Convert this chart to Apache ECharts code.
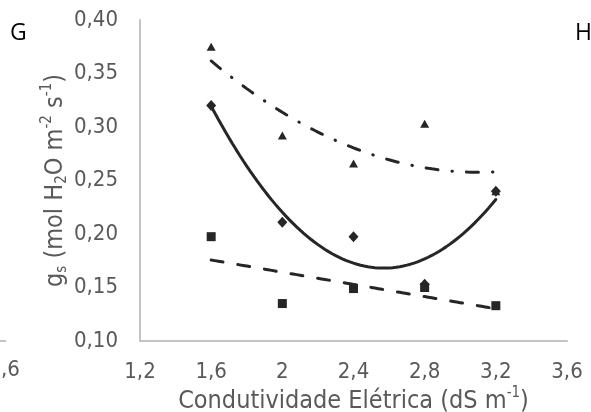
<!DOCTYPE html>
<html>
<head>
<meta charset="utf-8">
<script src="https://cdn.jsdelivr.net/npm/echarts@6/dist/echarts.min.js"></script>
<style>
html,body{margin:0;padding:0;background:#fff;}
#chart{width:591px;height:412px;}
</style>
</head>
<body>
<div id="chart"></div>
<script>
// Data
var condutividade = [1.6, 2.0, 2.4, 2.8, 3.2];
var serieTriangulo = [0.375, 0.292, 0.266, 0.303, 0.240];
var serieLosango   = [0.320, 0.211, 0.1975, 0.153, 0.240];
var serieQuadrado  = [0.1975, 0.135, 0.149, 0.150, 0.133];
var xTicks = [1.2, 1.6, 2.0, 2.4, 2.8, 3.2, 3.6];
var yTicks = [0.10, 0.15, 0.20, 0.25, 0.30, 0.35, 0.40];

// least squares polynomial fit (trendline)
function polyfit(xs, ys, deg) {
  var n = deg + 1, A = [], i, j, k;
  for (i = 0; i < n; i++) {
    A.push([]);
    for (j = 0; j < n; j++) {
      var s = 0;
      for (k = 0; k < xs.length; k++) s += Math.pow(xs[k], i + j);
      A[i].push(s);
    }
    var r = 0;
    for (k = 0; k < xs.length; k++) r += ys[k] * Math.pow(xs[k], i);
    A[i].push(r);
  }
  for (i = 0; i < n; i++) {
    var p = i;
    for (j = i + 1; j < n; j++) if (Math.abs(A[j][i]) > Math.abs(A[p][i])) p = j;
    var t = A[i]; A[i] = A[p]; A[p] = t;
    for (j = i + 1; j < n; j++) {
      var f = A[j][i] / A[i][i];
      for (k = i; k <= n; k++) A[j][k] -= f * A[i][k];
    }
  }
  var c = new Array(n);
  for (i = n - 1; i >= 0; i--) {
    var s2 = A[i][n];
    for (j = i + 1; j < n; j++) s2 -= A[i][j] * c[j];
    c[i] = s2 / A[i][i];
  }
  return c;
}
function trend(xs, ys, deg) {
  var c = polyfit(xs, ys, deg), out = [];
  var x0 = xs[0], x1 = xs[xs.length - 1], N = 80;
  for (var i = 0; i <= N; i++) {
    var x = x0 + (x1 - x0) * i / N, y = 0;
    for (var k = 0; k < c.length; k++) y += c[k] * Math.pow(x, k);
    out.push([x, y]);
  }
  return out;
}
function pts(ys) { return condutividade.map(function (x, i) { return [x, ys[i]]; }); }

var ink = '#262626';
var gray = '#595959';
var fontFam = '"DejaVu Sans Condensed","DejaVu Sans",sans-serif';

var chart = echarts.init(document.getElementById('chart'), null, {renderer: 'canvas'});
chart.setOption({
  animation: false,
  backgroundColor: '#fff',
  grid: {left: 140, right: 24, top: 20, bottom: 71, containLabel: false, outerBoundsMode: 'none'},
  xAxis: {
    type: 'value', min: 1.2, max: 3.6, interval: 0.4,
    axisLine: {show: true, lineStyle: {color: '#c4c4c4', width: 2}},
    axisTick: {show: false},
    splitLine: {show: false},
    axisLabel: {
      color: gray, fontFamily: fontFam, fontSize: 22, margin: 20,
      formatter: function (v) { return String(+(+v).toFixed(1)).replace('.', ','); }
    },
    name: 'Condutividade Elétrica (dS m{sup|-1})',
    nameLocation: 'middle', nameGap: 45, nameMoveOverlap: false,
    nameTextStyle: {
      color: gray, fontFamily: fontFam, fontSize: 25, padding: [0, 0, 0, 0],
      rich: {sup: {fontSize: 15, verticalAlign: 'top', color: gray, fontFamily: fontFam, lineHeight: 30}}
    }
  },
  yAxis: {
    type: 'value', min: 0.10, max: 0.40, interval: 0.05,
    axisLine: {show: true, lineStyle: {color: '#c4c4c4', width: 2}},
    axisTick: {show: false},
    splitLine: {show: false},
    axisLabel: {
      color: gray, fontFamily: fontFam, fontSize: 22, margin: 22,
      formatter: function (v) { return (+v).toFixed(2).replace('.', ','); }
    },
    name: 'g{sub|s} (mol H{sub|2}O m{sup|-2} s{sup|-1})',
    nameLocation: 'middle', nameGap: 70, nameRotate: 90, nameMoveOverlap: false,
    nameTextStyle: {
      color: gray, fontFamily: fontFam, fontSize: 25, lineHeight: 30,
      rich: {
        sub: {fontSize: 15, verticalAlign: 'bottom', color: gray, fontFamily: fontFam, lineHeight: 30},
        sup: {fontSize: 15, verticalAlign: 'top', color: gray, fontFamily: fontFam, lineHeight: 30}
      }
    }
  },
  series: [
    {type: 'scatter', data: pts(serieTriangulo), symbol: 'triangle', symbolSize: [9, 8], itemStyle: {color: ink, opacity: 1}, z: 3},
    {type: 'scatter', data: pts(serieLosango), symbol: 'diamond', symbolSize: [10, 11], itemStyle: {color: ink, opacity: 1}, z: 3},
    {type: 'scatter', data: pts(serieQuadrado), symbol: 'rect', symbolSize: 9, itemStyle: {color: ink, opacity: 1}, z: 3},
    {type: 'line', data: trend(condutividade, serieTriangulo, 2), showSymbol: false, symbol: 'none', z: 4,
     lineStyle: {color: ink, width: 3, type: [12, 14, 0.5, 14], cap: 'round'}},
    {type: 'line', data: trend(condutividade, serieLosango, 2), showSymbol: false, symbol: 'none', z: 4,
     lineStyle: {color: ink, width: 3, type: 'solid', cap: 'round'}},
    {type: 'line', data: trend(condutividade, serieQuadrado, 1), showSymbol: false, symbol: 'none', z: 4,
     lineStyle: {color: ink, width: 3, type: [12, 15], cap: 'round'}}
  ],
  graphic: [
    {type: 'text', left: 10, top: 22, style: {text: 'G', fill: '#000', font: '23px "Open Sans", sans-serif'}},
    {type: 'text', left: 575, top: 22, style: {text: 'H', fill: '#000', font: '23px "Open Sans", sans-serif'}},
    {type: 'text', left: 1, top: 359, style: {text: ',6', fill: gray, font: '22px "DejaVu Sans Condensed", sans-serif'}},
    {type: 'line', shape: {x1: 0, y1: 341, x2: 6, y2: 341}, style: {stroke: '#c4c4c4', lineWidth: 2}}
  ]
});
</script>
</body>
</html>
